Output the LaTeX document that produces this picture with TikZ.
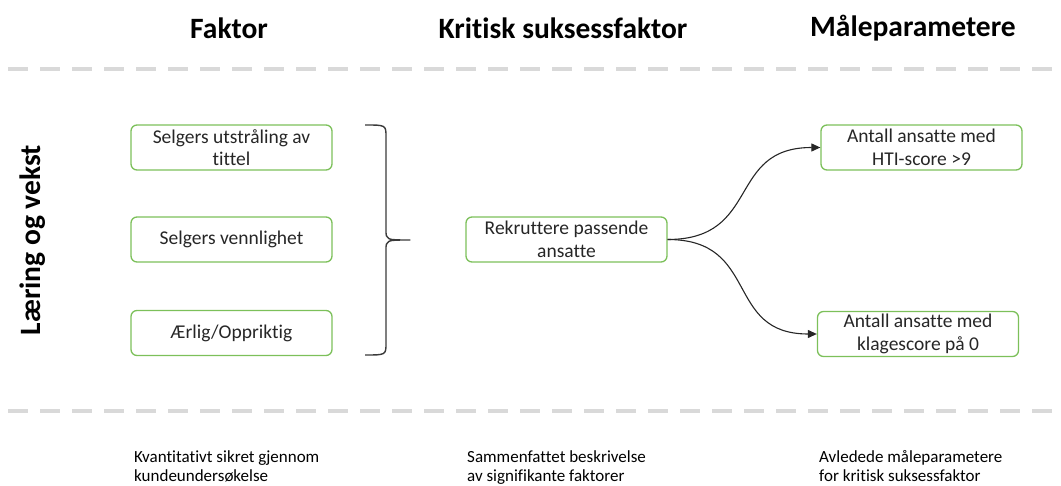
\documentclass[tikz,border=0pt]{standalone}
\usepackage{fontspec}
\setmainfont{Carlito}[Ligatures=NoCommon]
\usetikzlibrary{arrows.meta}
\definecolor{boxgreen}{HTML}{7CC05A}
\definecolor{sepgray}{HTML}{D9D9D9}
\definecolor{bracegray}{HTML}{3A3A3A}
\tikzset{
  factorbox/.style={draw=boxgreen, line width=1.3pt, rounded corners=6pt,
    minimum width=201pt, minimum height=45pt, align=center, inner sep=2pt,
    text=black!85, font=\fontsize{19.5}{22.5}\selectfont},
  heading/.style={font=\fontsize{29.5}{33}\selectfont\bfseries, text=black},
  note/.style={font=\fontsize{17}{19.5}\selectfont, align=left, anchor=north west,
    inner sep=0pt, text=black},
  separator/.style={sepgray, line width=3.5pt, dash pattern=on 20pt off 12pt},
  link/.style={line width=1.1pt, black!85, -{Triangle[length=9pt,width=8pt]}},
}
\begin{document}
\begin{tikzpicture}[x=1pt,y=-1pt]
  \useasboundingbox (0,0) rectangle (1061,486);

  % column headings
  \node[heading] (hfak) at (229,28) {Faktor};
  \node[heading] (hkri) at (563,28) {Kritisk suksessfaktor};
  \node[heading] (hmaa) at (913,28) {Måleparametere};

  % separators
  \draw[separator] (8,69) -- (1061,69);
  \draw[separator] (8,411) -- (1061,411);

  % perspective label
  \node[heading, rotate=90] (persp) at (33,240) {Læring og vekst};

  % factors
  \node[factorbox] (f1) at (231.5,147.5) {Selgers utstråling av\\tittel};
  \node[factorbox] (f2) at (231.5,239.5) {Selgers vennlighet};
  \node[factorbox] (f3) at (231.5,333) {Ærlig/Oppriktig};

  % brace collecting the factors
  \coordinate (btop) at (365,125);
  \coordinate (bbot) at (365,355);
  \coordinate (btip) at (410,240);
  \draw[bracegray, line width=1.4pt, line join=round]
    (btop) .. controls (386,125) .. (386,137) -- (386,230)
    .. controls (386,240) .. (btip)
    .. controls (386,240) .. (386,250) -- (386,343)
    .. controls (386,355) .. (bbot);

  % critical success factor
  \node[factorbox] (k1) at (566.5,239.5) {Rekruttere passende\\ansatte};

  % measurement parameters
  \node[factorbox] (m1) at (921.5,147.5) {Antall ansatte med\\HTI-score >9};
  \node[factorbox] (m2) at (918,334) {Antall ansatte med\\klagescore på 0};

  \draw[link] (k1.east) to[out=0,in=180,looseness=1.35] (m1.west);
  \draw[link] (k1.east) to[out=0,in=180,looseness=1.35] (m2.west);

  % column notes
  \node[note] (n1) at (134,450) {Kvantitativt sikret gjennom\\kundeundersøkelse};
  \node[note] (n2) at (467,450) {Sammenfattet beskrivelse\\av signifikante faktorer};
  \node[note] (n3) at (819,450) {Avledede måleparametere\\for kritisk suksessfaktor};
\end{tikzpicture}
\end{document}
